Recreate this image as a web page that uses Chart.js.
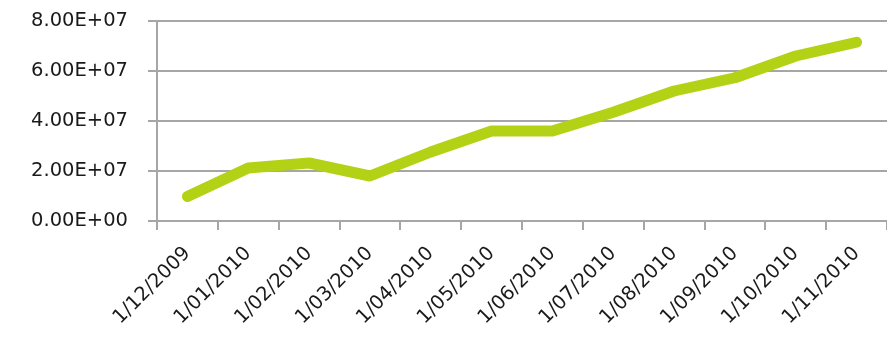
<!DOCTYPE html>
<html>
<head>
<meta charset="utf-8">
<script src="https://cdn.jsdelivr.net/npm/chart.js@4"></script>
<style>
  html, body { margin: 0; padding: 0; background: #fff; }
  #wrap { width: 887px; height: 345px; position: relative; }
</style>
</head>
<body>
<div id="wrap"><canvas id="chart"></canvas></div>
<script>
// Monthly totals, Dec 2009 - Nov 2010
const months = ['1/12/2009', '1/01/2010', '1/02/2010', '1/03/2010', '1/04/2010', '1/05/2010',
                '1/06/2010', '1/07/2010', '1/08/2010', '1/09/2010', '1/10/2010', '1/11/2010'];
const values = [9.8e6, 2.12e7, 2.32e7, 1.8e7, 2.76e7, 3.6e7,
                3.6e7, 4.35e7, 5.2e7, 5.73e7, 6.6e7, 7.15e7];
const yTicks = [0, 2e7, 4e7, 6e7, 8e7];

// Excel style scientific label, e.g. 8.00E+07
function sci(v) {
  if (v === 0) return '0.00E+00';
  const exp = Math.floor(Math.log10(Math.abs(v)));
  const mant = (v / Math.pow(10, exp)).toFixed(2);
  const e = String(Math.abs(exp)).padStart(2, '0');
  return mant + 'E' + (exp < 0 ? '-' : '+') + e;
}

const axisGrey = '#a6a6a6';
const fontSpec = { family: '"DejaVu Sans", "Open Sans", sans-serif', size: 19.5 };

new Chart(document.getElementById('chart'), {
  type: 'line',
  data: {
    labels: months,
    datasets: [{
      data: values,
      borderColor: '#b4d215',
      borderWidth: 11,
      borderCapStyle: 'round',
      borderJoinStyle: 'round',
      pointRadius: 0,
      tension: 0,
      fill: false
    }]
  },
  options: {
    responsive: true,
    maintainAspectRatio: false,
    animation: false,
    layout: { padding: { top: 21, right: 0, left: 0, bottom: 0 } },
    plugins: { legend: { display: false }, tooltip: { enabled: false } },
    scales: {
      x: {
        offset: true,
        grid: { offset: true, drawOnChartArea: false, tickLength: 9, color: axisGrey, lineWidth: 2 },
        border: { color: axisGrey, width: 2 },
        ticks: { color: '#1a1a1a', font: fontSpec, maxRotation: 45, minRotation: 45, padding: 12 },
        afterFit: function(scale) {
          scale.height = 124;
          scale.paddingTop = 0;
          scale.paddingBottom = 0;
        }
      },
      y: {
        min: 0,
        max: 8e7,
        afterBuildTicks: function(scale) { scale.ticks = yTicks.map(v => ({ value: v })); },
        grid: { color: axisGrey, lineWidth: 2, tickLength: 9 },
        border: { color: axisGrey, width: 2 },
        ticks: { color: '#1a1a1a', font: fontSpec, padding: 20, callback: v => sci(v) },
        afterFit: function(scale) {
          scale.width = 157;
          scale.paddingTop = 0;
          scale.paddingBottom = 0;
        }
      }
    }
  }
});
</script>
</body>
</html>
